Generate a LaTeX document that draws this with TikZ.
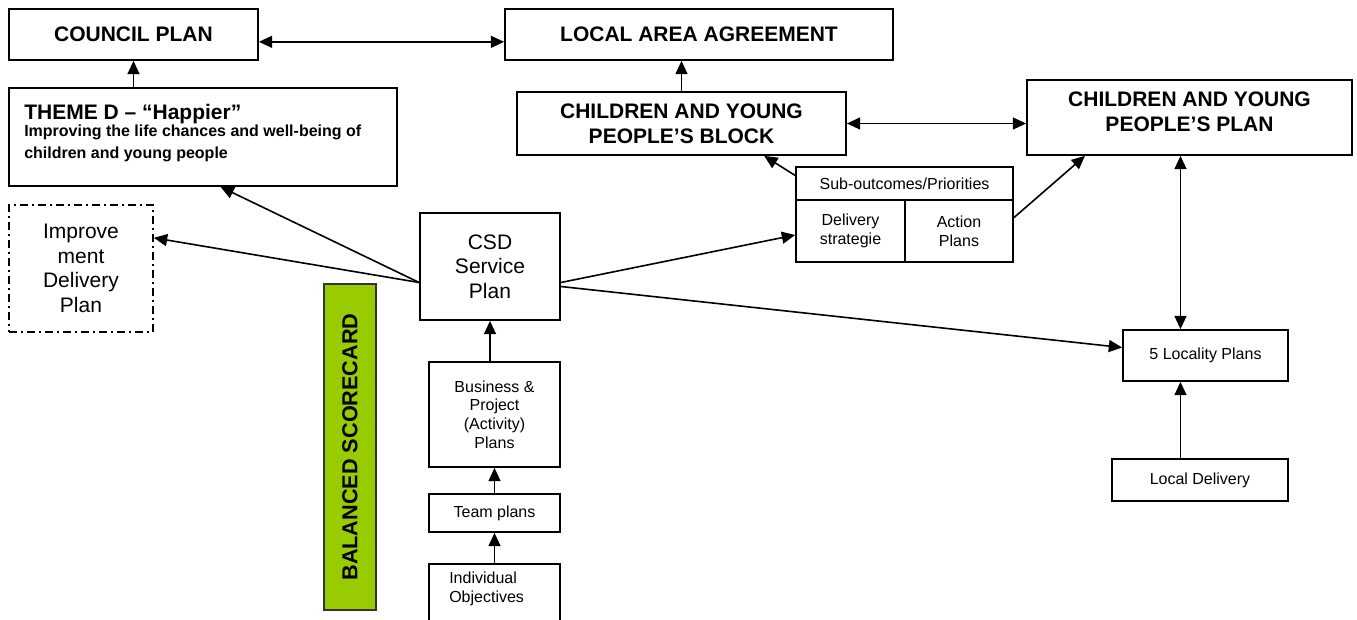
\documentclass[tikz,border=0pt]{standalone}
\usepackage{fontspec}
\setmainfont{Liberation Sans}
\usetikzlibrary{arrows.meta,calc}
\definecolor{scgreen}{HTML}{99CC00}

\begin{document}
\begin{tikzpicture}[x=0.75pt,y=-0.75pt,
  box/.style={draw=black,line width=1.3pt,rectangle},
  arr/.style={black,line width=1.2pt,-{Triangle[length=10pt,width=9pt]}},
  dblarr/.style={black,line width=1.2pt,{Triangle[length=10pt,width=9pt]}-{Triangle[length=10pt,width=9pt]}},
  big/.style={font=\fontsize{15.75}{19}\selectfont\bfseries},
  mid/.style={font=\fontsize{15.75}{18.5}\selectfont},
  small/.style={font=\fontsize{12}{14}\selectfont}]
\tikzstyle{every node}+=[inner sep=0pt]
\clip (0,0) rectangle (1357,619);
\node[box,big,minimum width=186.75pt,minimum height=38.25pt] (council) at (133.5,34.5) {COUNCIL PLAN};
\node[box,big,minimum width=291pt,minimum height=38.25pt] (laa) at (699,34.5) {LOCAL AREA AGREEMENT};
\node[box,minimum width=291pt,minimum height=73.5pt] (theme) at (203,137) {};
\node[big,anchor=north west] (themehead) at (24,104) {THEME D – “Happier”};
\node[font=\fontsize{12}{16}\selectfont\bfseries,anchor=north west,align=left] (themesub) at (24,125) {Improving the life chances and well-being of\\children and young people};
\node[box,big,align=center,minimum width=246.75pt,minimum height=47.25pt] (block) at (681.5,123.5) {CHILDREN AND YOUNG\\PEOPLE’S BLOCK};
\node[box,big,align=center,text depth=9pt,minimum width=243.75pt,minimum height=56.25pt] (plan) at (1189.5,117.5) {CHILDREN AND YOUNG\\PEOPLE’S PLAN};
\node[box,small,minimum width=162.75pt,minimum height=24.75pt] (subout) at (904.5,183.5) {Sub-outcomes/Priorities};
\node[box,small,align=center,minimum width=81.75pt,minimum height=46.5pt] (strategy) at (850.5,231) {Delivery\\strategie};
\node[box,small,align=center,minimum width=81pt,minimum height=46.5pt] (action) at (959,231) {Action\\Plans};
\node[box,mid,align=center,minimum width=105pt,minimum height=80.25pt] (csd) at (490,266.5) {CSD\\Service\\Plan};
\node[draw=black,line width=1.3pt,dash pattern=on 6pt off 3pt on 1.5pt off 3pt,mid,align=center,minimum width=108pt,minimum height=95.25pt] (improve) at (81,268.5) {Improve\\ment\\Delivery\\Plan};
\node[draw=black!80,line width=1pt,fill=scgreen,font=\fontsize{16.25}{19}\selectfont\bfseries,rotate=90,minimum width=244.5pt,minimum height=39pt] (scorecard) at (350,447) {BALANCED SCORECARD};
\node[box,small,align=center,minimum width=98.25pt,minimum height=78.75pt] (business) at (494.5,414.5) {Business \&\\Project\\(Activity)\\Plans};
\node[box,small,minimum width=98.25pt,minimum height=28.5pt] (team) at (494.5,513) {Team plans};
\node[box,minimum width=98.25pt,minimum height=52.5pt] (indiv) at (494.5,599) {};
\node[small,anchor=north west,align=left] (indivtxt) at (449,572) {Individual\\Objectives};
\node[box,small,minimum width=123.75pt,minimum height=38.25pt] (locality) at (1205.5,355.5) {5 Locality Plans};
\node[box,small,minimum width=132pt,minimum height=31.5pt] (delivery) at (1200,480) {Local Delivery};
\coordinate (lp) at ($(locality.north west)!0.35!(locality.north east)$);
\draw[dblarr] ([yshift=-5.5pt]council.east) -- ([yshift=-5.5pt]laa.west);
\draw[arr] (council.south |- theme.north) -- (council.south);
\draw[arr] (block.north) -- (block.north |- laa.south);
\draw[dblarr] (block.east) -- (block.east -| plan.west);
\draw[arr] ([yshift=-7pt]subout.north west) -- ($(block.south west)!0.75!(block.south east)$);
\draw[arr] ([yshift=10pt]action.east) -- ($(plan.south west)!0.18!(plan.south east)$);
\draw[dblarr] (lp |- plan.south) -- (lp);
\draw[arr] (lp |- delivery.north) -- (lp |- locality.south);
\draw[arr] ([yshift=-12pt]csd.west) -- ($(theme.south west)!0.545!(theme.south east)$);
\draw[arr] ([yshift=-12pt]csd.west) -- ([yshift=23pt]improve.east);
\draw[arr] ([yshift=-12pt]csd.east) -- ([yshift=-3pt]strategy.west);
\draw[arr] ([yshift=-15pt]csd.east) -- ([yshift=6pt]locality.west);
\draw[arr] (csd.south |- business.north) -- (csd.south);
\draw[arr] (team.north) -- (business.south);
\draw[arr] (indiv.north) -- (team.south);
\end{tikzpicture}
\end{document}
